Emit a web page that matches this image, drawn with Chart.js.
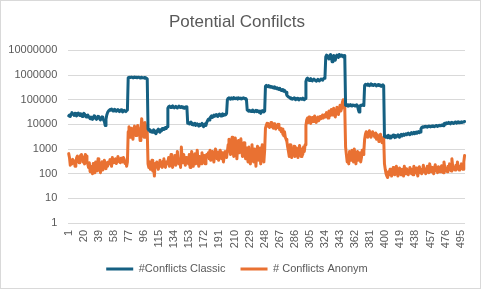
<!DOCTYPE html>
<html>
<head>
<meta charset="utf-8">
<style>
  html, body { margin: 0; padding: 0; background: #ffffff; }
  #c { display: block; }
</style>
<script src="https://cdn.jsdelivr.net/npm/chart.js@4.4.1/dist/chart.umd.min.js"></script>
</head>
<body>
<canvas id="c" width="481" height="289"></canvas>
<script>
// ---- Data ----
const chartTitle = "Potential Confilcts";
const seriesNames = ["#Conflicts Classic", "# Conflicts Anonym"];
const tickLabels = ["1","20","39","58","77","96","115","134","153","172","191","210","229","248","267","286","305","324","343","362","381","400","419","438","457","476","495"];
const yTicks = [1, 10, 100, 1000, 10000, 100000, 1000000, 10000000];
const categories = [];
for (let k = 1; k <= 500; k++) categories.push(String(k));

const classic = [
  // 1-25
  22000,24000,21000,26000,30000,27000,25000,23000,28000,24000,22000,26000,29000,25000,23000,27000,24000,21000,25000,28000,26000,23000,20000,22000,24000,
  // 26-50
  21000,19000,17000,20000,18000,16000,19000,22000,20000,17000,16000,18000,21000,19000,17000,15000,18000,20000,17000,15000,13000,9000,16000,24000,30000,
  // 51-75
  34000,37000,40000,38000,42000,37000,35000,39000,41000,36000,34000,38000,40000,37000,33000,35000,39000,36000,32000,34000,37000,35000,33000,36000,38000,
  // 76-100
  780000,820000,800000,790000,830000,810000,770000,800000,840000,790000,810000,780000,800000,820000,790000,760000,800000,810000,780000,770000,790000,750000,780000,740000,700000,
  // 101-125
  6500,5800,6200,5000,5500,4800,5200,6000,5600,4500,4200,5000,5800,6400,5200,4800,6000,5500,6800,6200,7000,6400,7500,6800,8000,
  // 126-150
  45000,52000,55000,50000,48000,53000,56000,51000,47000,50000,54000,49000,46000,52000,55000,50000,48000,53000,51000,47000,50000,45000,49000,52000,48000,
  // 151-175
  11000,12000,10500,11500,12500,10000,11000,9500,10500,11000,9000,10000,10500,9500,8500,10000,9000,9500,11000,10000,8000,9500,10500,9000,12000,
  // 176-200
  14000,16000,15000,18000,20000,22000,19000,21000,24000,23000,22000,25000,24000,21000,23000,26000,24000,22000,25000,27000,23000,24000,26000,25000,28000,
  // 201-225
  100000,115000,120000,110000,105000,118000,112000,108000,122000,115000,110000,117000,113000,106000,119000,114000,110000,116000,108000,112000,120000,115000,109000,113000,105000,
  // 226-248
  38000,36000,34000,37000,35000,33000,36000,38000,34000,32000,35000,37000,33000,36000,34000,31000,35000,28000,33000,36000,34000,32000,35000,
  // 249-275
  350000,380000,360000,340000,370000,330000,350000,320000,340000,310000,300000,330000,290000,310000,280000,300000,270000,260000,290000,250000,240000,260000,230000,220000,240000,210000,200000,
  // 276-299
  150000,140000,130000,125000,120000,110000,115000,105000,112000,118000,108000,100000,110000,115000,105000,98000,108000,112000,104000,110000,116000,106000,100000,112000,
  // 300-324
  550000,700000,750000,650000,600000,680000,720000,620000,580000,650000,700000,640000,600000,560000,620000,680000,600000,580000,640000,700000,660000,620000,700000,750000,800000,
  // 325-349
  5500000,6500000,6000000,5000000,4500000,6000000,6800000,5500000,3500000,5000000,6200000,5800000,4000000,5500000,6500000,6000000,5200000,6800000,6200000,5800000,6500000,6000000,5500000,6200000,5000000,
  // 350-373
  60000,58000,62000,55000,60000,57000,63000,59000,56000,61000,58000,60000,55000,59000,62000,57000,40000,32000,55000,60000,58000,62000,60000,58000,
  // 374-398
  380000,420000,400000,390000,430000,410000,370000,400000,440000,390000,410000,380000,400000,420000,390000,360000,400000,410000,380000,370000,390000,350000,380000,400000,370000,
  // 399-500
  3200,3500,3000,3300,2900,3600,3100,2800,3400,3000,3300,3700,3200,2900,3500,3100,3400,3800,3300,3000,3600,3900,3400,3700,4000,3600,3900,4200,3800,4100,
  4400,4000,3800,4300,4600,4100,4400,4800,4200,4500,4900,4400,4700,5100,4600,4900,6500,7500,8000,7600,
  8200,7800,8400,8000,7700,8300,8600,8100,7900,8500,8200,8800,8400,8000,8600,9000,8500,8200,8800,9200,
  8700,9000,9500,9100,8800,10500,11000,10200,11500,10800,11200,12000,11000,10500,11800,12200,11400,10800,11600,12500,
  11800,11200,12000,12800,11500,12200,11800,12600,12000,12400,12800,13000
];

const anonym = [
  // 1-25
  650,450,220,300,250,380,280,330,200,260,450,520,350,280,420,550,600,480,300,380,250,600,520,300,250,
  // 26-50
  180,280,120,200,150,100,260,180,110,300,220,130,400,150,200,110,250,300,140,180,350,220,160,280,200,
  // 51-75
  300,250,380,320,200,450,300,280,350,400,260,320,500,380,300,280,420,350,300,450,380,260,320,200,300,
  // 76-100
  5000,8000,6000,3000,7000,4500,2500,6000,8500,5000,3500,7000,9000,4000,6500,2200,5500,17000,8000,4000,3000,12000,9000,3500,5000,
  // 101-125
  250,180,300,150,220,350,130,200,80,260,180,300,220,150,280,350,200,250,180,320,400,230,180,300,250,
  // 126-150
  300,450,200,350,600,250,180,400,300,550,220,350,800,300,250,400,180,1200,350,280,600,300,220,450,350,
  // 151-175
  400,250,600,180,350,800,300,200,450,650,250,350,900,300,200,500,380,250,700,400,300,550,250,450,600,
  // 176-200
  500,700,400,900,350,600,800,450,300,650,1000,500,400,750,350,600,900,550,400,700,300,500,800,600,450,
  // 201-225
  800,1500,2500,1200,600,2000,3000,1000,500,1800,2800,900,400,1500,2200,700,1200,2600,1000,500,900,1800,600,400,1100,
  // 226-248
  800,300,1200,500,250,900,1500,400,300,1000,600,200,800,1300,350,500,1100,250,700,1500,400,300,900,
  // 249-275
  7000,9000,11000,8500,10000,7500,9000,12000,8000,9500,7000,10500,8500,6500,9000,7500,10000,8000,6000,7000,5000,6500,4000,3500,5000,3000,2500,
  // 276-299
  2000,1200,800,500,1500,700,450,1000,600,1300,500,800,1100,600,450,900,1400,700,500,1000,600,1200,800,1500,
  // 300-324
  9000,15000,18000,12000,20000,14000,11000,16000,19000,13000,17000,22000,15000,12000,18000,20000,14000,16000,21000,17000,19000,24000,18000,22000,25000,
  // 325-349
  20000,30000,25000,18000,35000,22000,28000,40000,24000,30000,45000,26000,20000,35000,50000,30000,25000,40000,60000,35000,45000,80000,100000,60000,40000,
  // 350-373
  1200,600,300,500,250,800,400,350,900,500,300,1000,450,250,600,800,350,500,700,300,450,900,600,800,
  // 374-398
  2500,4000,5000,3500,3000,4500,5500,4000,3000,3800,5000,4200,3500,3000,4500,2500,3800,3200,2000,3000,4000,2200,1800,2500,3000,
  // 399-500
  250,150,100,80,70,120,90,150,110,80,100,180,120,90,140,200,110,80,130,170,100,90,150,120,80,200,140,100,160,110,
  90,130,180,120,100,150,90,200,130,110,170,120,80,140,190,110,150,100,130,220,
  120,160,100,140,200,130,110,250,150,120,180,140,100,160,230,130,150,110,190,140,
  120,170,210,140,110,300,180,130,160,120,200,150,250,170,130,400,200,150,180,140,
  220,160,300,180,140,200,160,250,180,150,300,550
];

// ---- Chart ----
const textColor = "#595959";
const gridColor = "#D9D9D9";
Chart.defaults.font.family = "'Liberation Sans', Arial, sans-serif";
Chart.defaults.color = textColor;

const frame = {
  id: "frame",
  beforeDraw(chart) {
    const ctx = chart.ctx;
    ctx.save();
    ctx.fillStyle = "#ffffff";
    ctx.fillRect(0, 0, chart.width, chart.height);
    ctx.strokeStyle = gridColor;
    ctx.lineWidth = 1;
    ctx.strokeRect(0.5, 0.5, chart.width - 1, chart.height - 1);
    ctx.restore();
  }
};

new Chart(document.getElementById("c"), {
  type: "line",
  data: {
    labels: categories,
    datasets: [
      { label: seriesNames[0], data: classic, borderColor: "#156082", backgroundColor: "#156082",
        borderWidth: 3, pointRadius: 0, tension: 0, borderJoinStyle: "round", borderCapStyle: "round" },
      { label: seriesNames[1], data: anonym, borderColor: "#E97132", backgroundColor: "#E97132",
        borderWidth: 3, pointRadius: 0, tension: 0, borderJoinStyle: "round", borderCapStyle: "round" }
    ]
  },
  options: {
    responsive: false,
    devicePixelRatio: 1,
    animation: false,
    layout: { padding: { left: 8, right: 15, top: 0, bottom: 4.5 } },
    plugins: {
      title: {
        display: true, text: chartTitle, color: textColor,
        font: { size: 17, weight: "normal" },
        padding: { top: 12, bottom: 18 }
      },
      legend: {
        position: "bottom",
        labels: {
          usePointStyle: true, pointStyle: "line", pointStyleWidth: 27,
          font: { size: 11 }, color: textColor, padding: 15
        }
      },
      tooltip: { enabled: false }
    },
    scales: {
      x: {
        type: "category",
        offset: true,
        grid: { display: false, drawTicks: false },
        border: { display: false },
        afterFit: (axis) => { axis.height = 25.5; },
        ticks: {
          autoSkip: false, minRotation: 90, maxRotation: 90, padding: 7,
          font: { size: 11 }, color: textColor,
          callback: function (val) {
            const l = this.getLabelForValue(val);
            return tickLabels.includes(l) ? l : null;
          }
        }
      },
      y: {
        type: "logarithmic",
        min: 1, max: 10000000,
        afterBuildTicks: (axis) => { axis.ticks = yTicks.map(v => ({ value: v })); },
        afterFit: (axis) => { axis.width = 60.3; },
        grid: { color: gridColor, lineWidth: 1, drawTicks: false },
        border: { display: false },
        ticks: {
          padding: 11, font: { size: 11 }, color: textColor,
          callback: (v) => String(v)
        }
      }
    }
  },
  plugins: [frame]
});
</script>
</body>
</html>
